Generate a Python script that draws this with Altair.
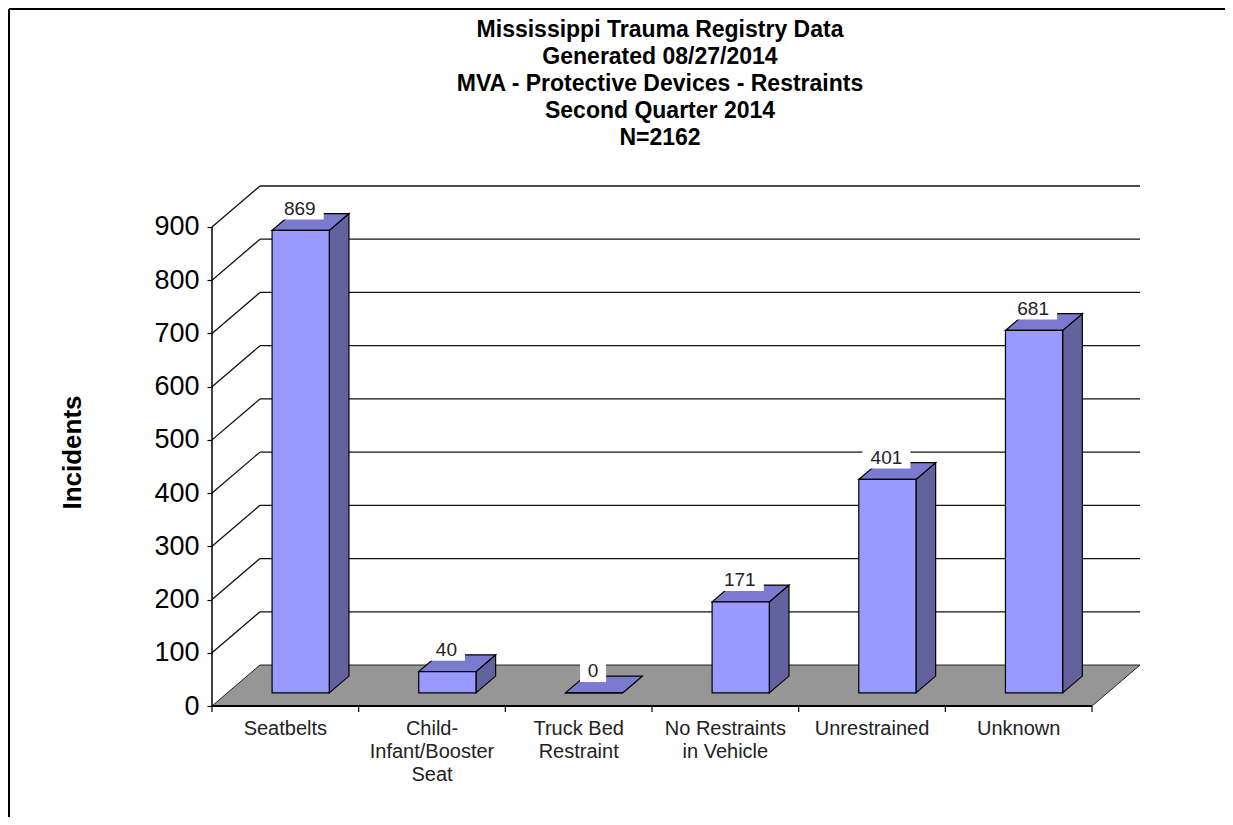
import altair as alt
import pandas as pd

# ---------------- data ----------------
categories = ["Seatbelts", "Child-\nInfant/Booster\nSeat", "Truck Bed\nRestraint",
              "No Restraints\nin Vehicle", "Unrestrained", "Unknown"]
values = [869, 40, 0, 171, 401, 681]
y_ticks = [0, 100, 200, 300, 400, 500, 600, 700, 800, 900]
y_max = 900
title_lines = ["Mississippi Trauma Registry Data", "Generated 08/27/2014",
               "MVA - Protective Devices - Restraints", "Second Quarter 2014", "N=2162"]
y_title = "Incidents"

# ---------------- style / pseudo-3D geometry ----------------
FONT = "Liberation Sans"
N = len(categories)
DX = 0.327      # depth shift (category units)
DY = 77.0       # depth shift (value units)
D0, D1 = 0.32, 0.73   # depth span of the bars
HW = 0.195      # half width of a bar (category units)
W, H = 928, 520
FRONT = "#9999FF"
SIDE = "#62629F"
TOP = "#7A7ACF"
FLOOR = "#969696"

xs = alt.Scale(domain=[0, N + DX], nice=False, zero=False)
ys = alt.Scale(domain=[0, y_max + DY], nice=False, zero=False)

yaxis = alt.Axis(values=y_ticks, domain=False, grid=False, ticks=True, tickSize=5,
                 tickColor="black", tickWidth=1.2, labelFont=FONT, labelFontSize=27,
                 labelColor="black", labelPadding=8, title=y_title, titleFont=FONT,
                 titleFontSize=26, titleFontWeight="bold", titleColor="black",
                 titleAngle=-90, titleX=-140, titleY=266, titleAlign="center",
                 titleBaseline="middle")


def X(f):
    return alt.X(f, type="quantitative", scale=xs, axis=None)


def Y(f):
    return alt.Y(f, type="quantitative", scale=ys, axis=yaxis)


# floor
floor_df = pd.DataFrame({"y": [0, DY], "x": [0, DX], "x2": [N, N + DX]})
floor = alt.Chart(floor_df).mark_area(orient="horizontal", fill=FLOOR, stroke="#222",
                                      strokeWidth=1).encode(
    y=Y("y"), x=X("x"), x2="x2")

# back wall gridlines
grid_df = pd.DataFrame({"y": [t + DY for t in y_ticks[1:]],
                        "x": [DX] * (len(y_ticks) - 1), "x2": [N + DX] * (len(y_ticks) - 1)})
grid = alt.Chart(grid_df).mark_rule(color="#111", strokeWidth=1.3).encode(
    y=Y("y"), x=X("x"), x2="x2")

# side wall diagonals
diag_df = pd.DataFrame({"x": [0] * (len(y_ticks) - 1), "y": y_ticks[1:],
                        "x2": [DX] * (len(y_ticks) - 1), "y2": [t + DY for t in y_ticks[1:]]})
diag = alt.Chart(diag_df).mark_rule(color="#111", strokeWidth=1.3).encode(
    x=X("x"), y=Y("y"), x2="x2", y2="y2")

# front axis lines
yline = alt.Chart(pd.DataFrame({"x": [0], "y": [0], "y2": [y_max]})).mark_rule(
    color="black", strokeWidth=1.5).encode(x=X("x"), y=Y("y"), y2="y2")
xline = alt.Chart(pd.DataFrame({"x": [0], "x2": [N], "y": [0]})).mark_rule(
    color="black", strokeWidth=1.8).encode(x=X("x"), x2="x2", y=Y("y"))

# category ticks
tick_df = pd.DataFrame({"x": list(range(N + 1)), "y": [0] * (N + 1)})
cticks = alt.Chart(tick_df).mark_rule(color="black", strokeWidth=1.2).encode(
    x=X("x"), y=Y("y"), y2=alt.value(H + 6))

# category labels
clab_df = pd.DataFrame({"x": [i + 0.5 for i in range(N)], "y": [0] * N, "label": categories})
clabels = alt.Chart(clab_df).mark_text(font=FONT, fontSize=20, color="#222", baseline="top",
                                       align="center", dy=13, lineBreak="\n",
                                       lineHeight=23).encode(
    x=X("x"), y=Y("y"), text="label:N")

# bars
front_rows, side_rows, top_rows, lab_rows = [], [], [], []
dd = DX * (D1 - D0)
for i, (c, v) in enumerate(zip(categories, values)):
    xl = i + 0.5 - HW + DX * D0
    xr = i + 0.5 + HW + DX * D0
    front_rows.append({"bar": i, "x": xl, "x2": xr, "y": DY * D0, "y2": v + DY * D0})
    side_rows.append({"bar": i, "x": xr, "y": DY * D0, "y2": v + DY * D0})
    side_rows.append({"bar": i, "x": xr + dd, "y": DY * D1, "y2": v + DY * D1})
    top_rows.append({"bar": i, "y": v + DY * D0, "x": xl, "x2": xr})
    top_rows.append({"bar": i, "y": v + DY * D1, "x": xl + dd, "x2": xr + dd})
    txt = str(v)
    cx = i + 0.5 + DX * 0.3
    bw = (len(txt) * 11 + 15) / 146.67
    lab_rows.append({"bar": i, "x": cx, "y": v + 65, "text": txt,
                     "bx": cx - bw / 2, "bx2": cx + bw / 2, "by": v + 45, "by2": v + 86})

front = alt.Chart(pd.DataFrame(front_rows)).mark_rect(fill=FRONT, stroke="black",
                                                      strokeWidth=1.2).encode(
    x=X("x"), x2="x2", y=Y("y"), y2="y2")
side = alt.Chart(pd.DataFrame(side_rows)).mark_area(fill=SIDE, stroke="black",
                                                    strokeWidth=1.2).encode(
    x=X("x"), y=Y("y"), y2="y2", detail="bar:N")
top = alt.Chart(pd.DataFrame(top_rows)).mark_area(orient="horizontal", fill=TOP,
                                                  stroke="black", strokeWidth=1.2).encode(
    y=Y("y"), x=X("x"), x2="x2", detail="bar:N")

lab_df = pd.DataFrame(lab_rows)
boxes = alt.Chart(lab_df).mark_rect(fill="white").encode(
    x=X("bx"), x2="bx2", y=Y("by"), y2="by2")
labels = alt.Chart(lab_df).mark_text(font=FONT, fontSize=19, color="#222",
                                     baseline="middle", align="center").encode(
    x=X("x"), y=Y("y"), text="text:N")

# title block (text mark above the plot area)
title = alt.Chart(pd.DataFrame({"t": ["\n".join(title_lines)]})).mark_text(
    font=FONT, fontSize=23, fontWeight="bold", color="black", align="center",
    baseline="top", lineBreak="\n", lineHeight=27).encode(
    x=alt.value(W / 2 - 16), y=alt.value(-167), text="t:N")

# page frame (top and left edges)
frame_top = alt.Chart(pd.DataFrame({"a": [0]})).mark_rule(color="black", strokeWidth=2).encode(
    x=alt.value(-203), x2=alt.value(W + 90), y=alt.value(-177))
frame_left = alt.Chart(pd.DataFrame({"a": [0]})).mark_rule(color="black", strokeWidth=2).encode(
    x=alt.value(-203), y=alt.value(-177), y2=alt.value(H + 120))

chart = alt.layer(
    floor, grid, diag, yline, xline, cticks, clabels,
    side, top, front, boxes, labels, title, frame_top, frame_left
).properties(
    width=W, height=H,
    autosize=alt.AutoSizeParams(type="none"),
    padding={"left": 204, "top": 178, "right": 85, "bottom": 111},
    background="white",
).configure_view(stroke=None)

chart.save("out.html", embed_options={"renderer": "svg", "actions": False})
